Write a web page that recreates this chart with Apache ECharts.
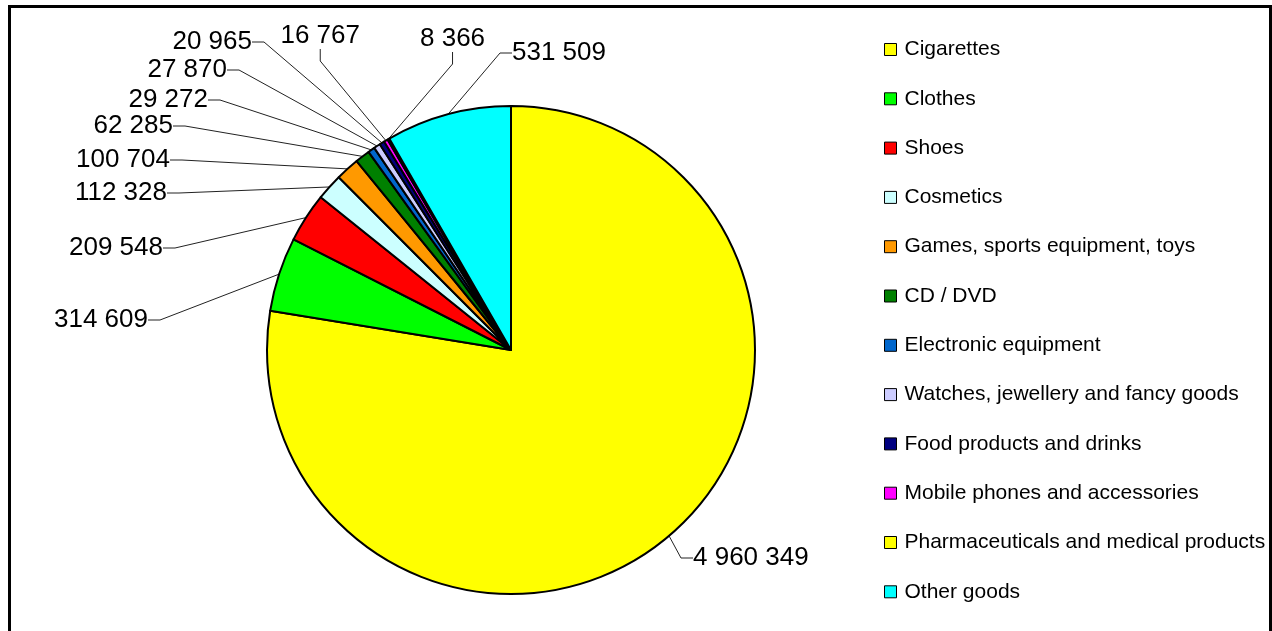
<!DOCTYPE html>
<html><head><meta charset="utf-8">
<script src="https://cdn.jsdelivr.net/npm/echarts@6/dist/echarts.min.js"></script>
<style>html,body{margin:0;padding:0;background:#fff;overflow:hidden}#c{width:1272px;height:631px}</style>
</head><body><div id="c"></div>
<script>
const categories = ['Cigarettes','Clothes','Shoes','Cosmetics','Games, sports equipment, toys','CD / DVD','Electronic equipment','Watches, jewellery and fancy goods','Food products and drinks','Mobile phones and accessories','Pharmaceuticals and medical products','Other goods'];
const values = [4960349, 314609, 209548, 112328, 100704, 62285, 29272, 27870, 20965, 16767, 8366, 531509];
const colors = ['#FFFF00','#00FF00','#FF0000','#CCFFFF','#FF9900','#008000','#0066CC','#CCCCFF','#000080','#FF00FF','#FFFF00','#00FFFF'];
// label anchor [x, y, align] (layout only)
const labelPlace = [[693,558,'left'],[148,320,'right'],[163,248,'right'],[167,193,'right'],[170,160,'right'],[173,126,'right'],[208,100,'right'],[227,70,'right'],[252,42,'right'],[360,36,'right'],[420,39,'left'],[512,53,'left']];

const fmt = v => String(v).replace(/\B(?=(\d{3})+(?!\d))/g, ' ');
const chart = echarts.init(document.getElementById('c'), null, {renderer:'canvas'});
chart.setOption({
  animation: false,
  backgroundColor: '#fff',
  graphic: [{type:'rect', shape:{x:9.5, y:6.5, width:1261, height:700}, style:{fill:null, stroke:'#000', lineWidth:3}, silent:true}],
  legend: {
    orient: 'vertical', left: 884, top: 39, padding: 0,
    itemWidth: 12, itemHeight: 12, itemGap: 28.3,
    icon: 'rect',
    itemStyle: {borderColor:'#000', borderWidth:1},
    textStyle: {fontFamily:'Liberation Sans, Arial, sans-serif', fontSize:21, color:'#000', lineHeight:20, padding:[0,0,0,3]},
    selectedMode: false,
    data: categories
  },
  series: [{
    type: 'pie',
    center: [511, 350],
    radius: 244,
    startAngle: 90,
    clockwise: true,
    avoidLabelOverlap: false,
    silent: true,
    itemStyle: {borderColor:'#000', borderWidth:2},
    label: {show:true, formatter: p => fmt(p.value), fontFamily:'Liberation Sans, Arial, sans-serif', fontSize:26, color:'#000'},
    labelLine: {show:true, length: 15, length2: 12, lineStyle:{color:'#222', width:1}},
    labelLayout: function (params) {
      const p = labelPlace[params.dataIndex];
      return {x: p[0], y: p[1], align: p[2], verticalAlign: 'middle'};
    },
    data: categories.map((c, i) => ({name: c, value: values[i], itemStyle: {color: colors[i]}}))
  }]
});
</script></body></html>
